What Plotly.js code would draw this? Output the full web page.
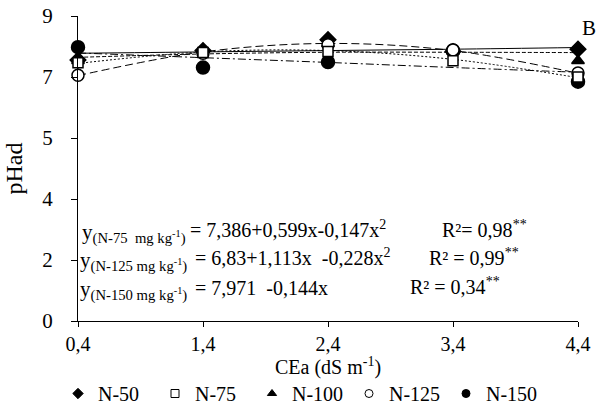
<!DOCTYPE html>
<html><head><meta charset="utf-8">
<script src="https://cdn.plot.ly/plotly-3.0.1.min.js"></script>
<style>body{margin:0}#c{width:605px;height:408px}</style>
</head><body><div id="c"></div>
<script>
const xVals = [0.4, 1.4, 2.4, 3.4, 4.4];
const xTickText = ["0,4", "1,4", "2,4", "3,4", "4,4"];
const yTickVals = [0, 1.8, 3.6, 5.4, 7.2, 9];
const yTickText = ["0", "2", "4", "5", "7", "9"];
const seriesNames = ["N-50", "N-75", "N-100", "N-125", "N-150"];
const n50 = [7.70, 7.98, 8.30, 7.95, 8.02];
const n75 = [7.62, 7.92, 7.95, 7.68, 7.20];
const n100 = [7.68, 8.02, 8.18, 7.95, 7.68];
const n125 = [7.25, 7.90, 8.15, 8.00, 7.32];
const n150 = [8.08, 7.48, 7.64, 7.98, 7.06];
// trend lines
const t50 = [7.90, 7.94, 7.98, 8.02, 8.07];
const t75 = [7.60, 7.94, 7.98, 7.72, 7.18];
const t100 = [7.78, 7.88, 7.93, 7.93, 7.92];
const t125 = [7.24, 7.94, 8.19, 7.98, 7.31];
const t150 = [7.91, 7.77, 7.63, 7.48, 7.34];
const xTitle = 'CEa (dS m<sup>-1</sup>)';

const F = "Liberation Serif, Times New Roman, serif";
const symbols = ['diamond', 'square', 'triangle-up', 'circle', 'circle'];
const fills = ['black', 'white', 'black', 'white', 'black'];
function trend(y, dash){
  return {x: xVals, y: y, mode: 'lines', type: 'scatter', showlegend: false, hoverinfo: 'skip',
    line: {color: 'black', width: 1, dash: dash, shape: 'spline'}, cliponaxis: false};
}
function pts(i, y, size){
  return {x: xVals, y: y, name: seriesNames[i], mode: 'markers', type: 'scatter', showlegend: false,
    marker: {symbol: symbols[i], size: size, color: fills[i], line: {color: 'black', width: 1.5}}, cliponaxis: false};
}
function legendEntry(i){
  return {x: [null], y: [null], name: seriesNames[i], mode: 'markers', type: 'scatter', legendrank: i + 1,
    marker: {symbol: symbols[i], size: 8, color: fills[i], line: {color: 'black', width: 1}}};
}
const data = [
  trend(t50, 'solid'),
  trend(t100, '4px,2px'),
  trend(t75, '2px,2px'),
  trend(t125, '8px,4px'),
  trend(t150, '8px,3px,2px,3px'),
  pts(0, n50, 12),
  pts(2, n100, 11),
  pts(4, n150, 13),
  pts(3, n125, 12),
  pts(1, n75, 10),
  legendEntry(0), legendEntry(1), legendEntry(2), legendEntry(3), legendEntry(4)
];
// pixel helpers for annotation placement (plot area: x 78..578, y 16..321)
const px = v => (v - 78) / 500;
const py = v => (321 - v) / 305;
const ann = (txt, x, y, size) => ({text: txt, xref: 'paper', yref: 'paper', x: px(x), y: py(y), xanchor: 'left', yanchor: 'middle',
  showarrow: false, font: {family: F, size: size, color: 'black'}});
const layout = {
  width: 605, height: 408,
  margin: {l: 78, r: 27, t: 16, b: 87},
  paper_bgcolor: 'white', plot_bgcolor: 'white',
  font: {family: F, size: 20, color: 'black'},
  showlegend: true,
  legend: {orientation: 'h', xref: 'container', x: 58 / 605, xanchor: 'left', yref: 'container', y: (408 - 374) / 408, yanchor: 'top',
    font: {family: F, size: 20}, itemwidth: 30, traceorder: 'normal', entrywidth: 52, entrywidthmode: 'pixels'},
  xaxis: {range: [0.4, 4.4], tickvals: xVals, ticktext: xTickText, showline: true, linecolor: 'black', linewidth: 1,
    ticks: 'outside', ticklen: 5, tickcolor: 'black', showgrid: false, zeroline: false, tickfont: {family: F, size: 20}},
  yaxis: {range: [0, 9], tickvals: yTickVals, ticktext: yTickText, showline: true, linecolor: 'black', linewidth: 1,
    ticks: 'outside', ticklen: 6, tickcolor: 'black', showgrid: false, zeroline: false, ticklabelstandoff: 14,
    tickfont: {family: F, size: 21},
    title: {text: 'pHad', font: {family: F, size: 24}, standoff: 12}},
  annotations: [
    {text: xTitle, xref: 'paper', yref: 'paper', x: px(328), y: py(367), xanchor: 'center', yanchor: 'middle',
      showarrow: false, font: {family: F, size: 20, color: 'black'}},
    ann('y<sub>(N-75  mg kg<sup>-1</sup>)</sub>', 80, 233, 21),
    ann('= 7,386+0,599x-0,147x<sup>2</sup>', 188, 229, 20),
    ann('R²= 0,98<sup>**</sup>', 440, 229, 20),
    ann('y<sub>(N-125 mg kg<sup>-1</sup>)</sub>', 78, 261, 21),
    ann('= 6,83+1,113x  -0,228x<sup>2</sup>', 193, 257, 20),
    ann('R² = 0,99<sup>**</sup>', 427, 257, 20),
    ann('y<sub>(N-150 mg kg<sup>-1</sup>)</sub>', 78, 290, 21),
    ann('= 7,971  -0,144x', 193, 288, 20),
    ann('R² = 0,34<sup>**</sup>', 408, 286, 20),
    {text: 'B', xref: 'paper', yref: 'paper', x: px(589), y: py(28), xanchor: 'center', yanchor: 'middle',
      showarrow: false, font: {family: F, size: 21, color: 'black'}}
  ]
};
Plotly.newPlot('c', data, layout, {displayModeBar: false, staticPlot: true});
</script></body></html>
